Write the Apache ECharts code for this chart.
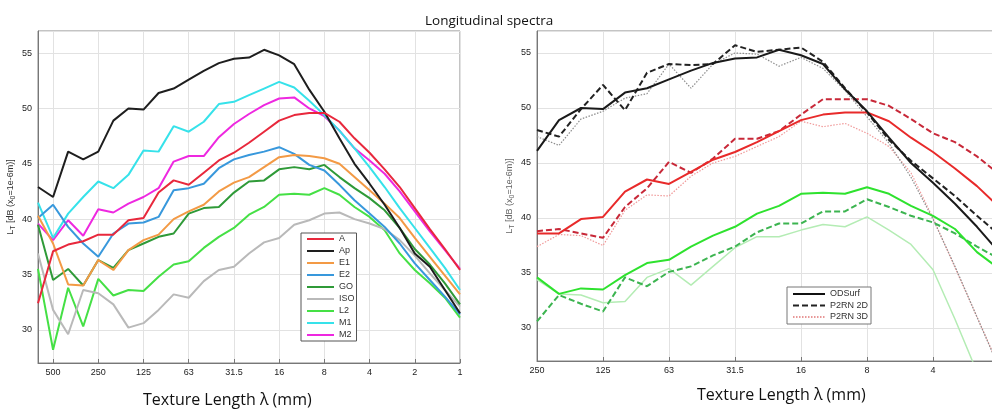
<!DOCTYPE html>
<html>
<head>
<meta charset="utf-8">
<script src="https://cdn.jsdelivr.net/npm/echarts@6/dist/echarts.min.js"></script>
<style>html,body{margin:0;padding:0;background:#fff;overflow:hidden;width:992px;height:411px}#c{width:1080px;height:411px}</style>
</head>
<body>
<div id="c"></div>
<script>
// 1/3-octave texture wavelength bands (mm), from ~630 down to 1
const bands = ['630','500','400','315','250','200','160','125','100','80','63','50','40','31.5','25','20','16','12.5','10','8','6.3','5','4','3.15','2.5','2','1.6','1.25','1'];
const octaveLabels = ['500','250','125','63','31.5','16','8','4','2','1'];
const bandsRight = bands.slice(4); // 250 .. 1

// Left panel: longitudinal spectra L_T (dB)
const A   = [32.4,37.1,37.7,38.0,38.6,38.6,39.9,40.1,42.4,43.5,43.1,44.2,45.3,46.0,46.9,47.9,48.9,49.4,49.6,49.6,48.8,47.3,46.0,44.5,42.9,41.0,39.1,37.3,35.4];
const Ap  = [42.9,42.0,46.1,45.4,46.1,48.9,50.0,49.9,51.4,51.8,52.6,53.4,54.1,54.5,54.6,55.3,54.8,54.0,51.7,49.7,47.3,45.0,43.2,41.3,39.2,36.9,35.7,33.6,31.5];
const E1  = [40.3,37.8,34.1,34.0,36.3,35.4,37.2,38.1,38.6,40.0,40.7,41.3,42.5,43.3,43.8,44.7,45.6,45.8,45.7,45.5,45.0,43.8,42.6,41.4,40.1,38.3,36.6,34.9,33.2];
const E2  = [40.1,41.3,39.3,37.8,36.6,38.7,39.6,39.7,40.2,42.6,42.8,43.2,44.6,45.4,45.8,46.1,46.5,45.9,44.9,44.4,43.1,41.7,40.5,39.3,37.8,36.0,34.5,33.0,31.4];
const GO  = [39.5,34.5,35.5,34.0,36.3,35.6,37.2,37.8,38.4,38.7,40.5,41.0,41.1,42.4,43.4,43.5,44.5,44.7,44.5,44.9,43.8,42.8,41.9,40.8,39.2,37.3,35.9,34.2,32.3];
const ISO = [36.9,31.8,29.6,33.6,33.3,32.3,30.2,30.6,31.8,33.2,32.9,34.4,35.4,35.7,36.9,37.9,38.3,39.5,39.9,40.5,40.6,40.0,39.6,39.1,38.1,36.7,35.1,33.6,32.1];
const L2  = [35.5,28.2,33.8,30.3,34.6,33.1,33.6,33.5,34.8,35.9,36.2,37.4,38.4,39.2,40.4,41.1,42.2,42.3,42.2,42.8,42.2,41.1,40.2,39.0,36.9,35.4,34.2,32.9,31.1];
const M1  = [41.5,38.3,40.5,42.0,43.4,42.8,44.0,46.2,46.1,48.4,47.9,48.8,50.4,50.6,51.2,51.8,52.4,51.9,50.7,49.4,48.0,46.4,44.7,42.9,41.0,39.2,37.4,35.6,33.6];
const M2  = [39.6,38.1,39.9,38.5,40.9,40.6,41.4,42.0,42.8,45.2,45.7,45.7,47.4,48.6,49.5,50.3,50.9,51.0,50.0,49.3,48.0,46.4,45.3,44.1,42.5,40.7,38.9,37.2,35.5];

// Right panel: P2RN estimates (from 250 mm)
const Ap_P2RN2D = [48.0,47.4,49.9,52.1,49.8,53.2,54.0,53.9,54.0,55.7,55.1,55.3,55.5,54.2,51.8,49.6,47.1,45.2,43.6,42.0,40.2,38.5];
const Ap_P2RN3D = [47.4,46.6,49.0,49.7,50.9,51.3,54.0,51.8,54.0,55.0,54.9,53.8,54.6,53.6,51.6,49.2,46.8,43.7,39.9,35.6,31.0,26.4];
const A_P2RN2D  = [38.8,39.0,38.6,38.2,41.0,42.7,45.1,44.1,45.4,47.2,47.2,47.9,49.4,50.8,50.8,50.8,50.2,49.0,47.7,46.9,45.6,44.0];
const A_P2RN3D  = [37.4,38.5,38.4,37.5,40.7,42.1,42.0,43.8,45.0,45.6,46.5,47.4,48.8,48.3,48.6,47.7,46.5,44.1,40.0,35.5,31.0,26.5];
const L2_P2RN2D = [30.6,33.0,32.2,31.5,34.6,33.8,35.1,35.6,36.6,37.4,38.7,39.5,39.5,40.6,40.6,41.7,41.0,40.2,39.6,38.6,37.4,36.3];
const L2_P2RN3D = [34.4,33.1,33.0,32.3,32.4,34.6,35.4,33.9,35.6,37.3,38.3,38.3,38.9,39.4,39.2,40.1,38.9,37.6,35.3,30.8,26.0];

const leftNames = ['A','Ap','E1','E2','GO','ISO','L2','M1','M2'];
const leftData = [A,Ap,E1,E2,GO,ISO,L2,M1,M2];
const leftColors = ['#e8283c','#1e1e1e','#f39a45','#3898dc','#2f9a38','#b9b9b9','#45e045','#36e2ea','#ee28e0'];

const isOct = (i, v) => octaveLabels.indexOf(v) >= 0;
const tickFont = {fontFamily:'Liberation Sans, Arial', fontSize:9, color:'#222'};
function xAx(gi, cats){
  return {type:'category', gridIndex:gi, data:cats, boundaryGap:false,
    axisLine:{lineStyle:{color:'#777'}},
    axisTick:{inside:true, length:4, interval:isOct, lineStyle:{color:'#777'}},
    axisLabel:Object.assign({interval:isOct, margin:5}, tickFont),
    splitLine:{show:true, interval:isOct, lineStyle:{color:'#e2e2e2'}}};
}
function yAx(gi, nameColor){
  return {type:'value', gridIndex:gi, min:27, max:57, splitNumber:6,
    axisLine:{show:true, lineStyle:{color:'#777'}},
    axisTick:{inside:true, length:4, lineStyle:{color:'#777'}},
    axisLabel:Object.assign({margin:6, showMinLabel:false, showMaxLabel:false}, tickFont),
    splitLine:{lineStyle:{color:'#e2e2e2'}},
    name:'L{s|T} [dB (x{s|0}=1e-6m)]', nameLocation:'middle', nameGap:21,
    nameTextStyle:{fontFamily:'Liberation Sans, Arial', fontSize:9, color:nameColor,
      rich:{s:{fontSize:7, padding:[5,0,0,0], color:nameColor}}}};
}

const series = [];
leftNames.forEach((n,k)=>{
  series.push({name:n, type:'line', xAxisIndex:0, yAxisIndex:0, data:leftData[k], symbol:'none',
    lineStyle:{width:2, color:leftColors[k]}, itemStyle:{color:leftColors[k]}, z:10-k});
});
function rs(name, data, color, width, type){
  series.push({name:name, type:'line', xAxisIndex:1, yAxisIndex:1, data:data, symbol:'none',
    lineStyle:{width:width, color:color, type:type}, itemStyle:{color:color}});
}
rs('L2 P2RN 3D', L2_P2RN3D, '#b4ecb4', 1.5, 'solid');
rs('A P2RN 3D', A_P2RN3D, '#f09a9a', 1.2, [1.5,1.5]);
rs('Ap P2RN 3D', Ap_P2RN3D, '#8e8e8e', 1.2, [1.5,1.5]);
rs('L2 P2RN 2D', L2_P2RN2D, '#3cb450', 2, [6,3]);
rs('A P2RN 2D', A_P2RN2D, '#c82838', 2, [6,3]);
rs('Ap P2RN 2D', Ap_P2RN2D, '#222222', 2, [6,3]);
rs('L2 ODSurf', L2.slice(4), '#2ee22e', 2, 'solid');
rs('A ODSurf', A.slice(4), '#e82a2a', 2, 'solid');
rs('Ap ODSurf', Ap.slice(4), '#1a1a1a', 2, 'solid');
rs('ODSurf', [], '#111', 2, 'solid');
rs('P2RN 2D', [], '#222', 2, [6,3]);
rs('P2RN 3D', [], '#e89898', 1.2, [1.5,1.5]);

const legendText = {fontFamily:'Liberation Sans, Arial', fontSize:9, color:'#333', lineHeight:10};
const option = {
  animation:false,
  backgroundColor:'#fff',
  title:[
    {text:'Longitudinal spectra', left:420, top:9, textStyle:{fontFamily:'Open Sans', fontSize:13.5, fontWeight:'normal', color:'#111'}},
    {text:'Texture Length λ (mm)', left:138, top:387, textStyle:{fontFamily:'Open Sans', fontSize:16, fontWeight:'normal', color:'#111'}},
    {text:'Texture Length λ (mm)', left:692, top:382, textStyle:{fontFamily:'Open Sans', fontSize:16, fontWeight:'normal', color:'#111'}}
  ],
  grid:[
    {left:38, width:422, top:31, bottom:48, show:true, borderColor:'#888', borderWidth:1},
    {left:537, width:528, top:31, bottom:50, show:true, borderColor:'#888', borderWidth:1}
  ],
  xAxis:[xAx(0,bands), xAx(1,bandsRight)],
  yAxis:[yAx(0,'#333'), yAx(1,'#666')],
  legend:[
    {data:leftNames, orient:'vertical', left:301, top:233, itemWidth:27, itemHeight:10, itemGap:2,
     padding:[1,2,1,5], borderColor:'#555', borderWidth:1, backgroundColor:'#fff', textStyle:legendText, selectedMode:false,
     itemStyle:{opacity:0}},
    {data:['ODSurf','P2RN 2D','P2RN 3D'], orient:'vertical', left:787, top:287, itemWidth:32, itemHeight:10, itemGap:1.5,
     padding:[2,3,2,5], borderColor:'#777', borderWidth:1, backgroundColor:'#fff', textStyle:legendText, selectedMode:false,
     itemStyle:{opacity:0}}
  ],
  series:series
};
const chart = echarts.init(document.getElementById('c'), null, {renderer:'canvas'});
chart.setOption(option);
</script>
</body>
</html>
